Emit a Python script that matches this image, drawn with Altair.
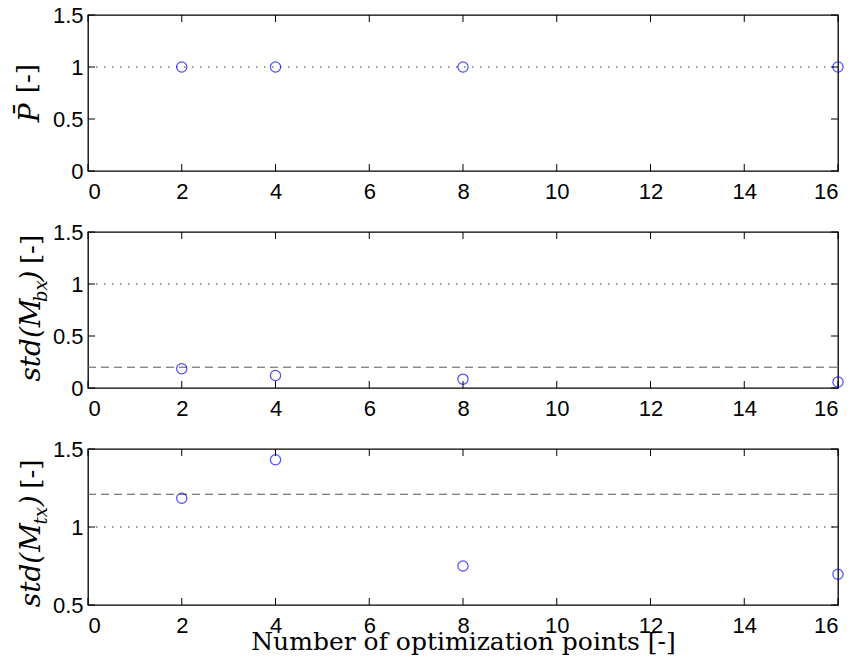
import altair as alt
import pandas as pd

# ---------------- data ----------------
x_ticks = [0, 2, 4, 6, 8, 10, 12, 14, 16]
n_points = [2, 4, 8, 16]
p_bar = [1.0, 1.0, 1.0, 1.0]
std_mbx = [0.185, 0.12, 0.085, 0.058]
std_mtx = [1.184, 1.431, 0.75, 0.697]

y_ticks_a = [0, 0.5, 1, 1.5]
y_ticks_b = [0.5, 1, 1.5]

dotted_ref = [1.0]
dashed_mbx = [0.2]
dashed_mtx = [1.21]

x_title = "Number of optimization points [-]"
p_title = ["P\u0304", "[-]"]
mbx_title = ["std(", "M", "bx", ")", "[-]"]
mtx_title = ["std(", "M", "tx", ")", "[-]"]

# ---------------- layout / style ----------------
W, H = 750, 156
TICK = 7
piece_style = {
    "math": dict(font="DejaVu Serif", fontStyle="italic", fontSize=28),
    "sub": dict(font="DejaVu Serif", fontStyle="italic", fontSize=18),
    "text": dict(font="DejaVu Serif", fontSize=26),
}
p_roles = ["math", "text"]
p_pos = [(-57, 97.8), (-60, 63.6)]
m_roles = ["math", "math", "sub", "math", "text"]
mbx_pos = [(-56, 122.3), (-56, 80.8), (-46, 59.1), (-56, 44.1), (-56, 17.5)]
mtx_pos = [(-56, 131.0), (-56, 88.5), (-46, 66.8), (-56, 51.8), (-56, 25.2)]


def panel(values, ydom, yticks, dashed, pieces, roles, positions, show_xtitle):
    xs = alt.Scale(domain=[0, 16], nice=False, zero=False)
    ys = alt.Scale(domain=ydom, nice=False, zero=False)
    if show_xtitle:
        xaxis = alt.Axis(values=x_ticks, ticks=False, tickSize=0, domain=False,
                         grid=False, labelPadding=10, format="~g",
                         title=x_title, titleX=W / 2, titleY=44,
                         titleAlign="center", titleBaseline="alphabetic")
    else:
        xaxis = alt.Axis(values=x_ticks, ticks=False, tickSize=0, domain=False,
                         grid=False, labelPadding=10, format="~g", title=None)
    yaxis = alt.Axis(values=yticks, ticks=False, tickSize=0, domain=False,
                     grid=False, labelPadding=5, format="~g", title=None)

    def ex(f):
        return alt.X(f, type="quantitative", scale=xs, axis=xaxis)

    def ey(f):
        return alt.Y(f, type="quantitative", scale=ys, axis=yaxis)

    layers = []
    # dotted reference line at 1
    layers.append(
        alt.Chart(pd.DataFrame({"v": dotted_ref})).mark_rule(
            color="#333333", strokeWidth=1, strokeDash=[1.5, 6.5]
        ).encode(y=ey("v"), x=alt.value(0), x2=alt.value(W))
    )
    if dashed is not None:
        layers.append(
            alt.Chart(pd.DataFrame({"v": dashed})).mark_rule(
                color="#555555", strokeWidth=1, strokeDash=[8, 5]
            ).encode(y=ey("v"), x=alt.value(0), x2=alt.value(W))
        )
    # inward ticks
    xt = pd.DataFrame({"t": x_ticks})
    yt = pd.DataFrame({"t": yticks})
    layers.append(alt.Chart(xt).mark_rule(color="black", strokeWidth=1).encode(
        x=ex("t"), y=alt.value(H), y2=alt.value(H - TICK)))
    layers.append(alt.Chart(xt).mark_rule(color="black", strokeWidth=1).encode(
        x=ex("t"), y=alt.value(0), y2=alt.value(TICK)))
    layers.append(alt.Chart(yt).mark_rule(color="black", strokeWidth=1).encode(
        y=ey("t"), x=alt.value(0), x2=alt.value(TICK)))
    layers.append(alt.Chart(yt).mark_rule(color="black", strokeWidth=1).encode(
        y=ey("t"), x=alt.value(W), x2=alt.value(W - TICK)))
    # data points
    layers.append(
        alt.Chart(pd.DataFrame({"n": n_points, "v": values})).mark_point(
            shape="circle", filled=False, color="#0000ff", size=105, strokeWidth=1.2
        ).encode(x=ex("n"), y=ey("v"))
    )
    # y title pieces
    one = pd.DataFrame({"k": [0]})
    for txt, role, (px, py) in zip(pieces, roles, positions):
        layers.append(
            alt.Chart(one).mark_text(
                text=txt, angle=270, align="center", baseline="middle",
                color="black", **piece_style[role]
            ).encode(x=alt.value(px), y=alt.value(py))
        )
    return alt.layer(*layers).properties(width=W, height=H)


p1 = panel(p_bar, [0, 1.5], y_ticks_a, None, p_title, p_roles, p_pos, False)
p2 = panel(std_mbx, [0, 1.5], y_ticks_a, dashed_mbx, mbx_title, m_roles, mbx_pos, False)
p3 = panel(std_mtx, [0.5, 1.5], y_ticks_b, dashed_mtx, mtx_title, m_roles, mtx_pos, True)

chart = alt.vconcat(p1, p2, p3, spacing=61, bounds="flush").properties(
    padding={"left": 6, "top": -5, "right": 0, "bottom": 4}
).configure_view(
    stroke="black", strokeWidth=1.3
).configure_axis(
    labelFont="Liberation Sans", labelFontSize=22, labelColor="black",
    titleFont="DejaVu Serif", titleFontSize=25, titleFontWeight="normal",
    titleColor="black"
)

chart.save("out.html", embed_options={"renderer": "svg", "actions": False})
